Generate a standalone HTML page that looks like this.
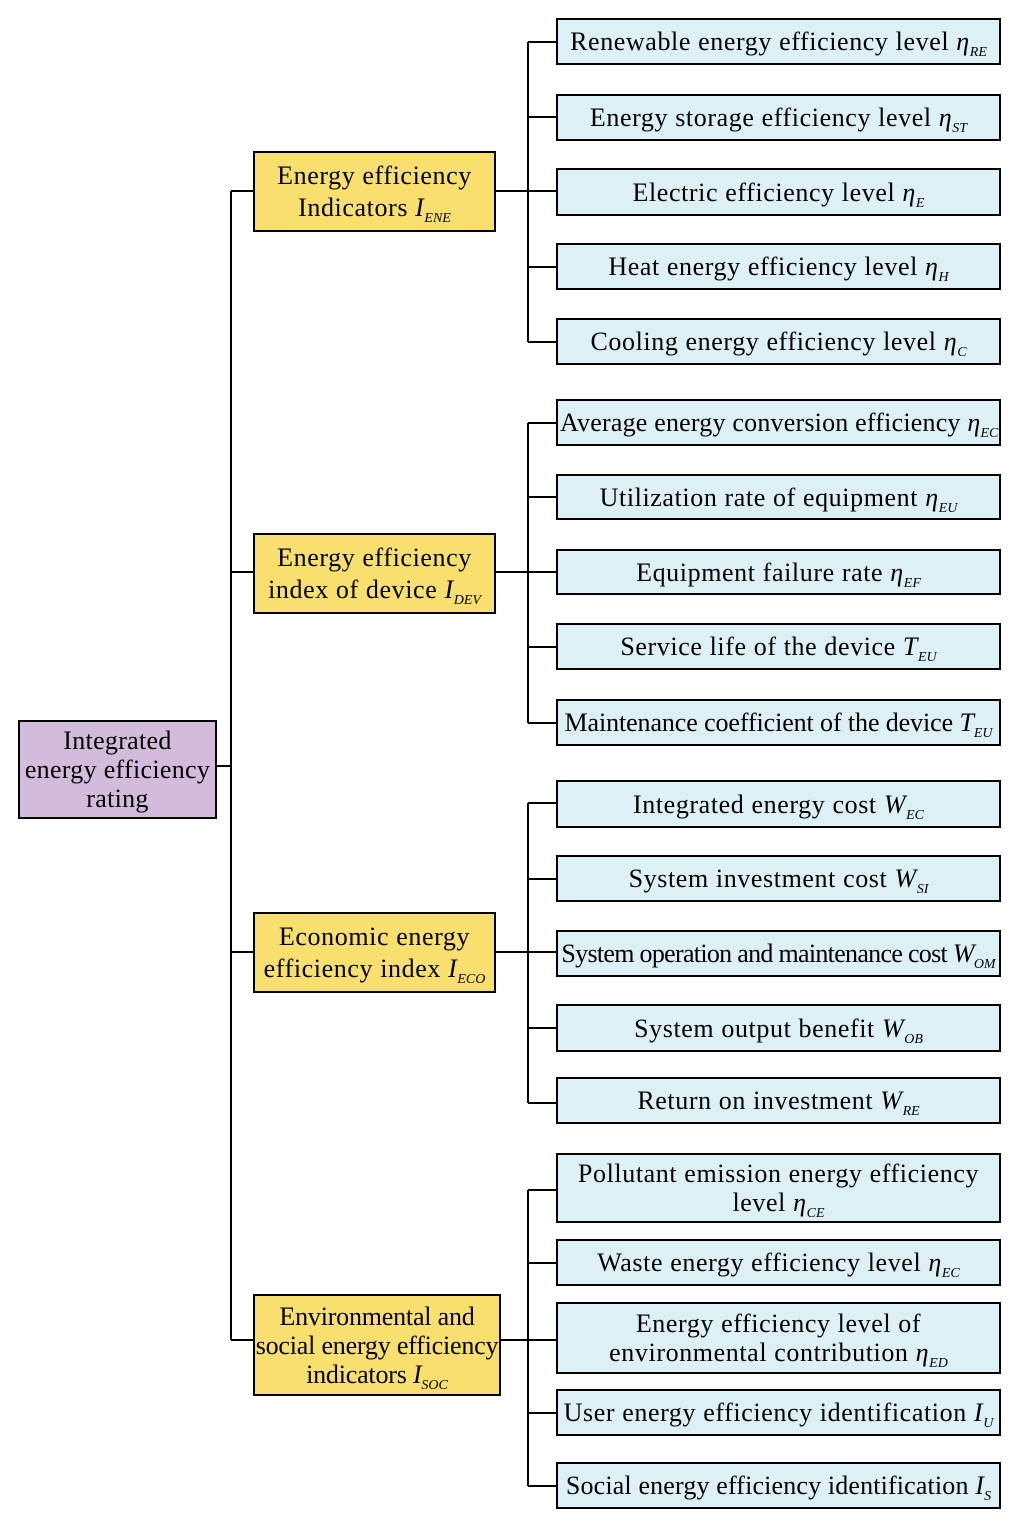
<!DOCTYPE html>
<html><head><meta charset="utf-8"><style>
body{margin:0;background:#fff;}
#c{position:relative;width:1019px;height:1531px;overflow:hidden;font-family:"Liberation Serif","DejaVu Serif",serif;color:#000;}
.b{position:absolute;box-sizing:border-box;border:2px solid #000;display:flex;align-items:center;justify-content:center;text-align:center;font-size:26px;line-height:29px;white-space:nowrap;letter-spacing:0.6px;}
.b>span{display:block;}
.l{background:#dcf0f6;left:556px;width:445px;}
.m{background:#f8df6e;left:253px;width:243px;line-height:32px;}
.r{background:#d3bcdb;}
i{font-style:italic;}
sub{font-size:14px;font-style:italic;vertical-align:-6px;line-height:0;letter-spacing:0;}
svg{position:absolute;left:0;top:0;}
</style></head><body><div id="c">
<svg width="1019" height="1531"><g stroke="#000" stroke-width="2" fill="none">
<line x1="216" y1="766" x2="231" y2="766"/>
<line x1="231" y1="191" x2="231" y2="1340"/>
<line x1="231" y1="191" x2="254" y2="191"/>
<line x1="231" y1="572" x2="254" y2="572"/>
<line x1="231" y1="952" x2="254" y2="952"/>
<line x1="231" y1="1340" x2="254" y2="1340"/>
<line x1="496" y1="191" x2="557" y2="191"/>
<line x1="496" y1="572" x2="557" y2="572"/>
<line x1="496" y1="952" x2="557" y2="952"/>
<line x1="501" y1="1340" x2="557" y2="1340"/>
<line x1="528" y1="42" x2="528" y2="342"/>
<line x1="528" y1="423" x2="528" y2="723"/>
<line x1="528" y1="803" x2="528" y2="1103"/>
<line x1="528" y1="1190" x2="528" y2="1486"/>
<line x1="528" y1="42" x2="557" y2="42"/><line x1="528" y1="117" x2="557" y2="117"/><line x1="528" y1="267" x2="557" y2="267"/><line x1="528" y1="342" x2="557" y2="342"/>
<line x1="528" y1="423" x2="557" y2="423"/><line x1="528" y1="497" x2="557" y2="497"/><line x1="528" y1="647" x2="557" y2="647"/><line x1="528" y1="723" x2="557" y2="723"/>
<line x1="528" y1="803" x2="557" y2="803"/><line x1="528" y1="879" x2="557" y2="879"/><line x1="528" y1="1028" x2="557" y2="1028"/><line x1="528" y1="1103" x2="557" y2="1103"/>
<line x1="528" y1="1190" x2="557" y2="1190"/><line x1="528" y1="1263" x2="557" y2="1263"/><line x1="528" y1="1413" x2="557" y2="1413"/><line x1="528" y1="1486" x2="557" y2="1486"/>
</g></svg>

<div class="b r" style="left:18px;top:720px;width:199px;height:99px;line-height:29px;letter-spacing:0.3px;"><span>Integrated<br>energy efficiency<br>rating</span></div>

<div class="b m" style="top:151px;height:81px;"><span>Energy efficiency<br>Indicators <i>I</i><sub>ENE</sub></span></div>
<div class="b m" style="top:533px;height:81px;"><span>Energy efficiency<br>index of device <i>I</i><sub>DEV</sub></span></div>
<div class="b m" style="top:912px;height:81px;"><span>Economic energy<br>efficiency index <i>I</i><sub>ECO</sub></span></div>
<div class="b m" style="top:1294px;height:102px;width:248px;line-height:29px;letter-spacing:-0.2px;"><span>Environmental and<br>social energy efficiency<br>indicators <i>I</i><sub>SOC</sub></span></div>

<div class="b l" style="top:18px;height:47px;"><span>Renewable energy efficiency level <i>η</i><sub>RE</sub></span></div>
<div class="b l" style="top:94px;height:47px;"><span>Energy storage efficiency level <i>η</i><sub>ST</sub></span></div>
<div class="b l" style="top:168px;height:48px;"><span>Electric efficiency level <i>η</i><sub>E</sub></span></div>
<div class="b l" style="top:243px;height:47px;"><span>Heat energy efficiency level <i>η</i><sub>H</sub></span></div>
<div class="b l" style="top:318px;height:47px;"><span>Cooling energy efficiency level <i>η</i><sub>C</sub></span></div>

<div class="b l" style="top:399px;height:47px;justify-content:flex-start;padding-left:2px;letter-spacing:0.2px;"><span>Average energy conversion efficiency <i>η</i><sub>EC</sub></span></div>
<div class="b l" style="top:474px;height:46px;"><span>Utilization rate of equipment <i>η</i><sub>EU</sub></span></div>
<div class="b l" style="top:549px;height:46px;"><span>Equipment failure rate <i>η</i><sub>EF</sub></span></div>
<div class="b l" style="top:623px;height:47px;"><span>Service life of the device <i>T</i><sub>EU</sub></span></div>
<div class="b l" style="top:699px;height:47px;letter-spacing:-0.1px;"><span>Maintenance coefficient of the device <i>T</i><sub>EU</sub></span></div>

<div class="b l" style="top:780px;height:48px;"><span>Integrated energy cost <i>W</i><sub>EC</sub></span></div>
<div class="b l" style="top:855px;height:47px;"><span>System investment cost <i>W</i><sub>SI</sub></span></div>
<div class="b l" style="top:930px;height:47px;letter-spacing:-0.7px;"><span>System operation and maintenance cost <i>W</i><sub>OM</sub></span></div>
<div class="b l" style="top:1004px;height:48px;"><span>System output benefit <i>W</i><sub>OB</sub></span></div>
<div class="b l" style="top:1077px;height:47px;"><span>Return on investment <i>W</i><sub>RE</sub></span></div>

<div class="b l" style="top:1153px;height:70px;"><span>Pollutant emission energy efficiency<br>level <i>η</i><sub>CE</sub></span></div>
<div class="b l" style="top:1239px;height:47px;"><span>Waste energy efficiency level <i>η</i><sub>EC</sub></span></div>
<div class="b l" style="top:1302px;height:72px;"><span>Energy efficiency level of<br>environmental contribution <i>η</i><sub>ED</sub></span></div>
<div class="b l" style="top:1389px;height:47px;"><span>User energy efficiency identification <i>I</i><sub>U</sub></span></div>
<div class="b l" style="top:1462px;height:47px;letter-spacing:0.15px;"><span>Social energy efficiency identification <i>I</i><sub>S</sub></span></div>
</div></body></html>
